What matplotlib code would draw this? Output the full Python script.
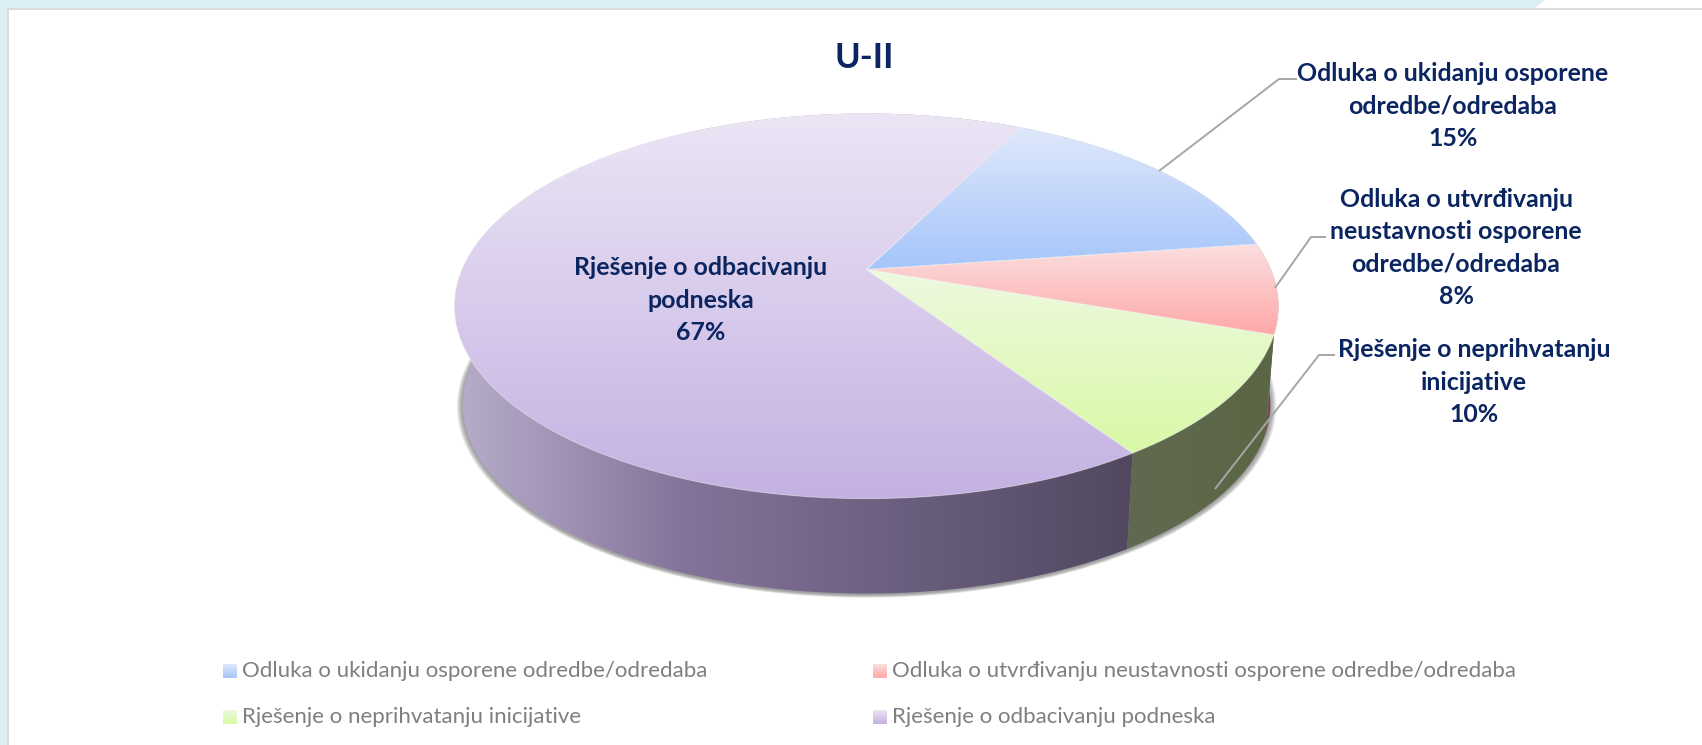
import numpy as np
import matplotlib
matplotlib.use("Agg")
import matplotlib.pyplot as plt
from matplotlib.patches import Polygon, Rectangle
from matplotlib.colors import to_rgb

# ---- data ----
title = "U-II"
categories = ["Odluka o ukidanju osporene odredbe/odredaba",
              "Odluka o utvrđivanju neustavnosti osporene odredbe/odredaba",
              "Rješenje o neprihvatanju inicijative",
              "Rješenje o odbacivanju podneska"]
values = [15.4, 7.6, 10.3, 66.7]
wrapped = ["Odluka o ukidanju osporene\nodredbe/odredaba",
           "Odluka o utvrđivanju\nneustavnosti osporene\nodredbe/odredaba",
           "Rješenje o neprihvatanju\ninicijative",
           "Rješenje o odbacivanju\npodneska"]

# ---- styles ----
plt.rcParams['font.family'] = ['Lato', 'DejaVu Sans']
NAVY = "#0b2560"
GREY = "#7f7f7f"
LEADER = "#a6a6a6"
top_colors = [("#dfe8fb", "#a6c5fa"), ("#fbdfdf", "#ffa8a8"),
              ("#eef9e0", "#d8f9a6"), ("#ece5f5", "#c4b1e2")]
side_colors = [["#5f6f90", "#5f6f90"], ["#7a4848", "#7a4848"],
               ["#616a50", "#5a6645"],
               ["#b8adcb", "#85749a", "#6a5e7e", "#514860"]]

W, H = 1702, 745
fig = plt.figure(figsize=(W / 100, H / 100), dpi=100, facecolor="white")
ax = fig.add_axes([0, 0, 1, 1])
ax.set_xlim(0, W)
ax.set_ylim(H, 0)
ax.axis("off")

# page frame
ax.add_patch(Polygon([(0, 0), (1545, 0), (1534, 8.5), (0, 8.5)], fc="#daeef4", ec="none", zorder=0))
ax.add_patch(Rectangle((0, 0), 7, H, fc="#daeef4", ec="none", zorder=0))
ax.add_patch(Rectangle((7, 8), W - 7, 2, fc="#dcdcdc", ec="none", zorder=1))
ax.add_patch(Rectangle((7, 8), 2, H - 8, fc="#dcdcdc", ec="none", zorder=1))

# perspective disc geometry
CX, CY_TOP, CY_BOT = 866.5, 269.5, 369
A, B, K = 404.5, 185.6, 0.19
S_BOT = 0.98
START = 63.5


def rim(theta_deg, cy, s=1.0):
    t = np.radians(theta_deg)
    w = 1 + K * np.sin(t)
    return np.column_stack([CX + s * A * np.cos(t) / w, cy - s * B * np.sin(t) / w])


def gradient_fill(poly, colors, horizontal, zorder):
    xmin, ymin = poly.min(axis=0)
    xmax, ymax = poly.max(axis=0)
    stops = np.array([to_rgb(c) for c in colors])
    pos = np.linspace(0, 1, len(stops))
    u = np.linspace(0, 1, 256)
    ramp = np.column_stack([np.interp(u, pos, stops[:, i]) for i in range(3)])
    arr = ramp[None, :, :] if horizontal else ramp[:, None, :]
    im = ax.imshow(arr, extent=(xmin, xmax, ymax, ymin), aspect="auto",
                   interpolation="bilinear", origin="upper", zorder=zorder)
    clip = Polygon(poly, closed=True, transform=ax.transData, fc="none", ec="none")
    ax.add_patch(clip)
    im.set_clip_path(clip)


# slice angles follow the values, clockwise
edges = START - 360 * np.cumsum([0] + values) / sum(values)
arcs = [np.linspace(a, b, 300) for a, b in zip(edges[:-1], edges[1:])]

# soft shadow below the body
for e in [0.014, 0.011, 0.008, 0.005, 0.002]:
    ring = rim(np.linspace(0, 360, 500), CY_BOT + 1, S_BOT * (1 + e))
    ax.add_patch(Polygon(ring, fc="#606060", ec="none", alpha=0.16, zorder=2))

# side walls
for arc, cols in zip(arcs, side_colors):
    poly = np.vstack([rim(arc, CY_TOP), rim(arc[::-1], CY_BOT, S_BOT)])
    gradient_fill(poly, cols, True, 3)

# top faces
for arc, cols in zip(arcs, top_colors):
    poly = np.vstack([[[CX, CY_TOP]], rim(arc, CY_TOP)])
    gradient_fill(poly, cols, False, 4)
    ax.add_patch(Polygon(poly, fc="none", ec="white", alpha=0.35, lw=0.8, zorder=5))

# title
ax.text(864, 58, title, color=NAVY, fontsize=25, fontweight="bold", ha="center", va="center", zorder=8)

# data labels
label_pos = [(1453, 106), (1456, 248), (1474, 382), (701, 300)]
for (x, y), txt, v in zip(label_pos, wrapped, values):
    ax.text(x, y, f"{txt}\n{round(v)}%", color=NAVY, fontsize=17.9, fontweight="bold",
            ha="center", va="center", linespacing=1.5, zorder=8)

# leader lines
leaders = [[(1297, 79), (1279, 79), (1159, 171)],
           [(1326, 237), (1311, 237), (1275, 288)],
           [(1335, 355), (1319, 355), (1215, 489)]]
for pts in leaders:
    xs, ys = zip(*pts)
    ax.plot(xs, ys, color=LEADER, lw=1.4, zorder=6, solid_capstyle="butt")

# legend
leg_x = [223, 873]
leg_y = [671, 717]
for i, (name, cols) in enumerate(zip(categories, top_colors)):
    lx, ly = leg_x[i % 2], leg_y[i // 2]
    box = np.array([(lx, ly - 7), (lx + 14, ly - 7), (lx + 14, ly + 7), (lx, ly + 7)], float)
    gradient_fill(box, cols, False, 7)
    ax.text(lx + 19, ly, name, color=GREY, fontsize=16.05, ha="left", va="center", zorder=8)

ax.set_xlim(0, W)
ax.set_ylim(H, 0)
fig.savefig("out.png", dpi=100, facecolor="white")
